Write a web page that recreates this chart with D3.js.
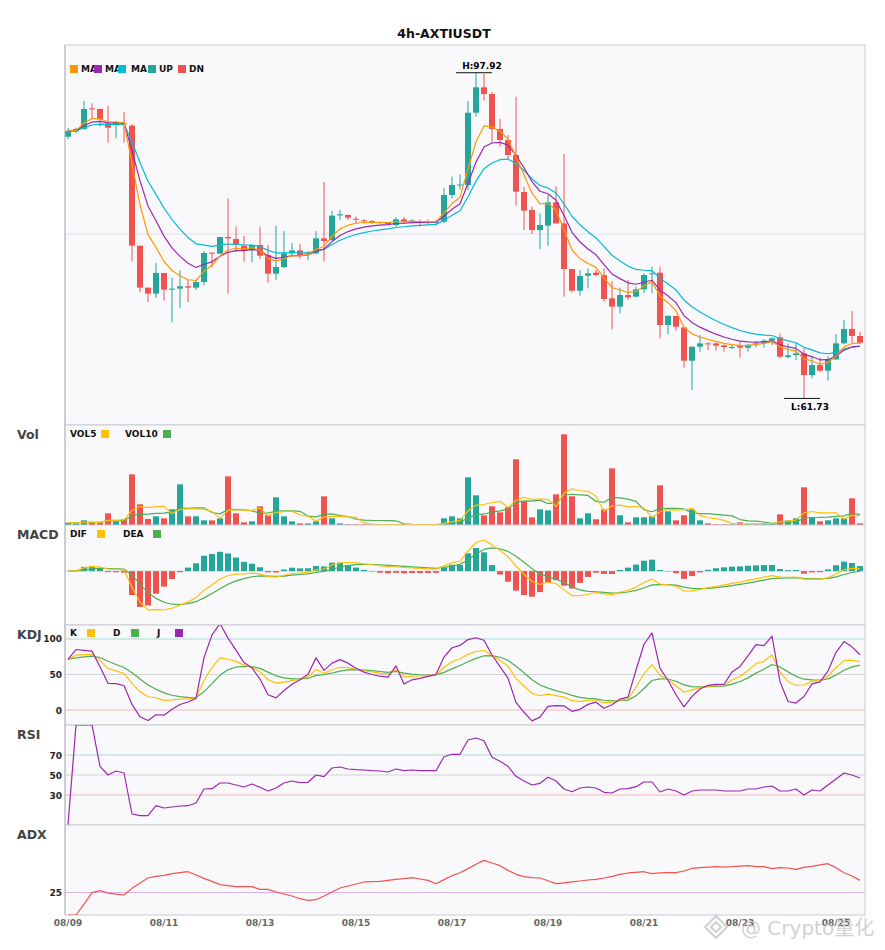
<!DOCTYPE html>
<html>
<head>
<meta charset="utf-8">
<script src="https://cdn.jsdelivr.net/npm/d3@7"></script>
<style>
  body { margin: 0; background: #fff; }
  svg { display: block; font-family: "DejaVu Sans", sans-serif; }
</style>
</head>
<body>
<div id="chart"></div>
<script>
// ---- data (4h candles, 08/09 .. 08/25) ----
const tickLabels = ['08/09', '08/11', '08/13', '08/15', '08/17', '08/19', '08/21', '08/23', '08/25'];
const candlesPerLabel = 12;

const openP = [90.81, 91.41, 91.67, 93.96, 93.89, 92.30, 92.11, 92.30, 92.04, 78.70,
    74.04, 73.37, 75.67, 73.85, 73.93, 74.19, 74.04, 74.67, 77.93, 77.81,
    79.67, 79.44, 78.70, 78.19, 78.78, 77.67, 75.59, 76.33, 77.85, 78.18,
    77.85, 77.85, 79.52, 79.30, 82.07, 82.11, 81.70, 81.52, 81.44, 81.33,
    81.15, 81.00, 81.63, 81.44, 81.40, 81.40, 81.30, 81.37, 84.33, 85.44,
    85.44, 93.48, 96.30, 95.56, 91.67, 90.44, 88.78, 84.67, 82.67, 80.44,
    80.93, 83.52, 81.18, 76.11, 73.70, 75.37, 75.70, 75.44, 72.85, 71.93,
    73.22, 73.04, 73.85, 75.60, 75.70, 69.89, 70.89, 69.63, 65.92, 67.48,
    67.85, 67.85, 67.63, 67.37, 67.55, 67.37, 67.80, 67.85, 68.15, 68.52,
    66.33, 66.55, 66.74, 64.33, 65.44, 64.81, 66.07, 67.85, 69.44, 68.67];
const highP = [91.81, 91.81, 94.78, 94.52, 93.96, 94.26, 92.41, 93.52, 92.22, 78.70,
    74.04, 76.78, 75.67, 75.15, 75.96, 74.89, 74.89, 78.11, 77.96, 79.67,
    83.96, 80.81, 79.81, 78.78, 80.81, 78.78, 80.93, 80.33, 79.00, 78.89,
    78.10, 80.33, 85.78, 82.56, 82.67, 82.19, 81.93, 81.63, 81.56, 81.33,
    81.30, 81.89, 81.89, 81.63, 81.63, 81.63, 81.56, 85.15, 86.37, 86.63,
    94.78, 97.92, 97.80, 95.78, 92.78, 91.00, 95.26, 85.26, 83.03, 82.30,
    84.33, 85.26, 88.89, 76.11, 76.00, 76.18, 76.00, 76.18, 74.78, 74.04,
    74.89, 74.15, 75.63, 76.37, 76.37, 70.92, 70.90, 69.63, 67.48, 68.78,
    67.96, 67.93, 67.74, 67.74, 68.04, 67.74, 68.15, 68.30, 68.52, 68.96,
    67.85, 67.93, 67.30, 66.44, 66.30, 66.44, 68.89, 70.44, 71.44, 69.15];
const lowP = [90.52, 91.19, 91.60, 92.85, 91.93, 90.15, 90.63, 90.15, 76.93, 73.52,
    72.44, 72.89, 72.59, 70.19, 71.78, 72.44, 73.78, 74.30, 76.37, 77.81,
    73.37, 78.00, 76.93, 76.85, 77.22, 74.59, 74.89, 76.22, 77.48, 77.26,
    77.10, 77.74, 76.93, 79.30, 81.56, 81.56, 81.19, 81.15, 81.11, 81.11,
    81.00, 80.81, 81.11, 81.19, 80.81, 81.00, 80.93, 81.19, 83.96, 84.96,
    84.90, 93.04, 94.81, 90.18, 89.70, 88.33, 83.15, 80.44, 80.00, 78.33,
    78.70, 81.18, 73.04, 73.50, 73.15, 73.96, 75.26, 72.48, 69.40, 71.18,
    72.67, 72.96, 73.41, 73.41, 68.40, 68.85, 69.26, 65.15, 62.67, 66.93,
    67.11, 67.04, 66.93, 67.22, 66.26, 66.93, 67.41, 67.37, 67.67, 66.19,
    66.19, 66.00, 61.73, 63.96, 64.63, 63.70, 66.00, 67.74, 67.93, 67.78];
const closeP = [91.44, 91.67, 93.89, 93.89, 92.74, 91.81, 92.41, 92.19, 78.70, 74.04,
    73.37, 75.67, 73.81, 73.93, 74.19, 74.04, 74.67, 77.89, 77.85, 79.67,
    79.52, 78.81, 78.19, 78.78, 77.59, 75.59, 76.33, 77.85, 78.18, 77.59,
    77.96, 79.52, 79.22, 82.04, 82.19, 81.81, 81.63, 81.44, 81.37, 81.26,
    81.22, 81.63, 81.30, 81.50, 81.35, 81.35, 81.37, 84.33, 85.44, 85.50,
    93.48, 96.30, 95.56, 91.67, 90.44, 88.78, 84.70, 82.59, 80.44, 81.00,
    83.52, 81.18, 76.11, 73.70, 75.33, 75.63, 75.44, 72.78, 71.93, 73.22,
    72.96, 73.85, 75.44, 75.63, 69.89, 70.92, 69.70, 65.92, 67.48, 67.85,
    67.78, 67.59, 67.44, 67.44, 67.37, 67.70, 67.85, 68.15, 68.41, 66.37,
    66.52, 66.74, 64.33, 65.44, 64.81, 66.07, 67.85, 69.44, 68.67, 67.93];
const volume = [7, 5, 14, 7, 7, 35, 11, 17, 152, 62,
    18, 26, 20, 47, 122, 26, 26, 14, 14, 20,
    146, 35, 8, 11, 56, 29, 83, 26, 11, 5,
    5, 11, 86, 20, 5, 2, 2, 2, 1, 1,
    1, 1, 1, 1, 1, 1, 1, 20, 26, 20,
    143, 89, 29, 56, 38, 53, 197, 71, 23, 47,
    44, 92, 272, 86, 20, 35, 17, 47, 170, 29,
    8, 23, 23, 26, 119, 41, 14, 29, 47, 14,
    5, 2, 2, 2, 8, 3, 3, 4, 5, 32,
    14, 20, 113, 23, 11, 14, 20, 20, 80, 5];
const rsiVals = [0, 100, 100, 100, 58.7, 50, 54, 52, 11, 9.3,
    9.3, 19.3, 17, 18, 19, 19.3, 22, 36, 36.3, 42,
    42, 40, 38, 41, 37.7, 34, 37, 42, 44, 42.3,
    42.7, 50, 48.3, 57, 58, 56, 55.3, 55, 54.3, 54,
    53, 56, 54.3, 55, 54.3, 54.3, 54.3, 68.3, 70.7, 70.7,
    85, 87, 84.3, 67.7, 63.7, 58.7, 48.7, 44, 40, 41.7,
    47.7, 44, 36, 33.3, 37, 38, 37, 32.7, 32, 36,
    36.3, 38.3, 43, 43, 33, 36, 34, 30, 34, 35,
    35, 35, 34, 34, 34, 36, 36, 38, 39, 34,
    34, 36, 30, 35, 34, 40, 46, 52, 50, 47];
const adxVals = [0, 0, 12, 24.8, 27, 24.4, 23.3, 22.2, 29.6, 35.6,
    41.1, 43, 44.1, 45.9, 47, 48.1, 44.4, 40.7, 37.4, 33.7,
    32.6, 31.5, 31.5, 31.5, 28.5, 28.5, 25.6, 23.3, 21.1, 18.1,
    16.3, 17, 21.1, 25.6, 30, 32.2, 34.4, 36.7, 37, 37.4,
    38.5, 39.6, 40.4, 41.5, 40, 38.5, 34.8, 39.3, 43.7, 47,
    51.5, 56.3, 60.7, 57.8, 54.8, 49.6, 45.2, 42.6, 41.5, 41.1,
    38.1, 34.8, 35.6, 36.7, 37.8, 38.9, 39.6, 41.1, 43, 45.2,
    46.7, 47.4, 48.1, 45.9, 46.7, 47, 47, 48.9, 51.9, 52.6,
    53.3, 53.7, 53.3, 53.7, 54.4, 54.8, 53.7, 53.7, 51.5, 52.6,
    52.2, 50.7, 53, 54.1, 55.6, 57, 52.6, 47, 43.3, 38.5];

// ---- indicator series derived from the candles ----
const n = closeP.length;
const ema = (vals, span) => {
    const a = 2 / (span + 1);
    const out = [];
    vals.forEach((v, i) => out.push(i === 0 ? v : out[i - 1] + a * (v - out[i - 1])));
    return out;
};
const sma = (vals, len) => vals.map((v, i) => d3.mean(vals.slice(Math.max(0, i - len + 1), i + 1)));

const ma5 = ema(closeP, 5), ma8 = ema(closeP, 8), ma13 = ema(closeP, 13);
const vol5 = sma(volume, 5), vol10 = sma(volume, 10);
// fast MACD (5, 13, 5)
const dif = ma5.map((v, i) => v - ma13[i]);
const dea = ema(dif, 5);
const macdHist = dif.map((v, i) => 2 * (v - dea[i]));

const kdjK = [], kdjD = [], kdjJ = [];
for (let i = 0; i < n; i++) {
    const s = Math.max(0, i - 8);
    const lo = d3.min(lowP.slice(s, i + 1)), hi = d3.max(highP.slice(s, i + 1));
    const rsv = hi === lo ? 50 : (closeP[i] - lo) / (hi - lo) * 100;
    const k = i === 0 ? rsv : (2 * kdjK[i - 1] + rsv) / 3;
    const dv = i === 0 ? rsv : (2 * kdjD[i - 1] + k) / 3;
    kdjK.push(k); kdjD.push(dv); kdjJ.push(3 * k - 2 * dv);
}

// ---- layout ----
const W = 885, H = 950;
const left = 65, right = 865;
const UP = '#26a69a', DN = '#ef5350';
const panels = [
    { id: 'main', top: 45, bottom: 425 },
    { id: 'vol', top: 425, bottom: 525, label: 'Vol' },
    { id: 'macd', top: 525, bottom: 625, label: 'MACD' },
    { id: 'kdj', top: 625, bottom: 725, label: 'KDJ' },
    { id: 'rsi', top: 725, bottom: 825, label: 'RSI' },
    { id: 'adx', top: 825, bottom: 915, label: 'ADX' }
];
const P = Object.fromEntries(panels.map(p => [p.id, p]));

const svg = d3.select('#chart').append('svg').attr('width', W).attr('height', H);
const defs = svg.append('defs');

const x = d3.scaleBand().domain(d3.range(n)).range([left - 1, right - 1]).paddingInner(0.25).paddingOuter(0.125);
const cx = i => x(i) + x.bandwidth() / 2;

const yMain = d3.scaleLinear().domain([58.78, 101]).range([P.main.bottom, P.main.top]);
const yVol = d3.scaleLinear().domain([0, 300]).range([P.vol.bottom, P.vol.top]);
const macdExt = d3.extent([...dif, ...dea, ...macdHist]);
const yMacd = d3.scaleLinear().domain(macdExt).range([P.macd.bottom - 15, P.macd.top + 15]);
const yKdj = d3.scaleLinear().domain([-21.1, 119.7]).range([P.kdj.bottom, P.kdj.top]);
const yRsi = d3.scaleLinear().domain([0, 100]).range([P.rsi.bottom, P.rsi.top]);
const yAdx = d3.scaleLinear().domain([0, 100]).range([P.adx.bottom, P.adx.top]);

svg.append('text')
    .attr('x', 444).attr('y', 38)
    .attr('text-anchor', 'middle')
    .style('font-size', '12.5px').style('font-weight', 'bold').style('fill', '#111')
    .text('4h-AXTIUSDT');

// panel backgrounds and clip areas
const layers = {};
panels.forEach(p => {
    svg.append('rect')
        .attr('x', left).attr('y', p.top)
        .attr('width', right - left).attr('height', p.bottom - p.top)
        .attr('fill', '#f9f9fc').attr('stroke', '#c9c9d2').attr('stroke-width', 1);
    defs.append('clipPath').attr('id', `clip-${p.id}`)
        .append('rect').attr('x', left).attr('y', p.top)
        .attr('width', right - left).attr('height', p.bottom - p.top);
    layers[p.id] = svg.append('g').attr('clip-path', `url(#clip-${p.id})`);
    if (p.label) {
        svg.append('text')
            .attr('x', 17).attr('y', p.top + 14)
            .style('font-size', '12.5px').style('font-weight', 'bold').style('fill', '#444')
            .text(p.label);
    }
});

svg.append('line')
    .attr('x1', left).attr('x2', left).attr('y1', P.main.top).attr('y2', P.adx.bottom)
    .attr('stroke', '#b8b8c2');

const guide = (layer, y, v, color) => layers[layer].append('line')
    .attr('x1', left).attr('x2', right).attr('y1', y(v)).attr('y2', y(v))
    .attr('stroke', color).attr('stroke-width', 1);

const tickText = (y, v, label) => svg.append('text')
    .attr('x', 62).attr('y', y(v) + 3.5)
    .attr('text-anchor', 'end')
    .style('font-size', '9px').style('font-weight', 'bold').style('fill', '#222')
    .text(label);

const drawLine = (layer, vals, y, color, w = 1.2) => layers[layer].append('path')
    .datum(vals)
    .attr('fill', 'none').attr('stroke', color).attr('stroke-width', w)
    .attr('stroke-linejoin', 'round')
    .attr('d', d3.line().x((d, i) => cx(i)).y(d => y(d)));

const legend = (items, y) => items.forEach(it => {
    if (it.text) {
        svg.append('text').attr('x', it.tx).attr('y', y + 7)
            .style('font-size', '9px').style('font-weight', 'bold').style('fill', '#111')
            .text(it.text);
    }
    if (it.color) {
        svg.append('rect').attr('x', it.sx).attr('y', y).attr('width', 8).attr('height', 8).attr('fill', it.color);
    }
});

// ---- main: candles + moving averages ----
guide('main', yMain, 80, '#dedee4');
const isUp = i => closeP[i] >= openP[i];
const candles = layers.main.selectAll('g.candle').data(d3.range(n)).join('g').attr('class', 'candle');
candles.append('line')
    .attr('x1', i => cx(i)).attr('x2', i => cx(i))
    .attr('y1', i => yMain(highP[i])).attr('y2', i => yMain(lowP[i]))
    .attr('stroke', i => isUp(i) ? UP : DN).attr('stroke-width', 1);
candles.append('rect')
    .attr('x', i => x(i)).attr('width', x.bandwidth())
    .attr('y', i => yMain(Math.max(openP[i], closeP[i])))
    .attr('height', i => Math.max(1, Math.abs(yMain(openP[i]) - yMain(closeP[i]))))
    .attr('fill', i => isUp(i) ? UP : DN);

drawLine('main', ma13, yMain, '#00bcd4');
drawLine('main', ma8, yMain, '#9c27b0');
drawLine('main', ma5, yMain, '#ff9800');

const hiIdx = d3.maxIndex(highP), loIdx = d3.minIndex(lowP);
svg.append('line').attr('x1', cx(hiIdx) - 20).attr('x2', cx(hiIdx) + 16)
    .attr('y1', yMain(highP[hiIdx])).attr('y2', yMain(highP[hiIdx])).attr('stroke', '#111');
svg.append('text').attr('x', cx(hiIdx) + 6).attr('y', yMain(highP[hiIdx]) - 4)
    .attr('text-anchor', 'middle').style('font-size', '9px').style('font-weight', 'bold')
    .text(`H:${highP[hiIdx].toFixed(2)}`);
svg.append('line').attr('x1', cx(loIdx) - 20).attr('x2', cx(loIdx) + 16)
    .attr('y1', yMain(lowP[loIdx])).attr('y2', yMain(lowP[loIdx])).attr('stroke', '#111');
svg.append('text').attr('x', cx(loIdx) + 6).attr('y', yMain(lowP[loIdx]) + 12)
    .attr('text-anchor', 'middle').style('font-size', '9px').style('font-weight', 'bold')
    .text(`L:${lowP[loIdx].toFixed(2)}`);

legend([
    { color: '#ff9800', sx: 70, text: 'MA', tx: 81 },
    { color: '#9c27b0', sx: 94, text: 'MA', tx: 105 },
    { color: '#00bcd4', sx: 118, text: 'MA', tx: 131 },
    { color: UP, sx: 148, text: 'UP', tx: 159 },
    { color: DN, sx: 178, text: 'DN', tx: 189 }
], 65);

// ---- volume ----
layers.vol.selectAll('rect.vbar').data(d3.range(n)).join('rect').attr('class', 'vbar')
    .attr('x', i => x(i)).attr('width', x.bandwidth())
    .attr('y', i => yVol(volume[i])).attr('height', i => yVol(0) - yVol(volume[i]))
    .attr('fill', i => isUp(i) ? UP : DN);
drawLine('vol', vol10, yVol, '#4caf50');
drawLine('vol', vol5, yVol, '#ffc107');
legend([
    { text: 'VOL5', tx: 70, color: '#ffc107', sx: 101 },
    { text: 'VOL10', tx: 125, color: '#4caf50', sx: 163 }
], 430);

// ---- MACD ----
guide('macd', yMacd, 0, '#d6d6dc');
layers.macd.selectAll('rect.mbar').data(d3.range(n)).join('rect').attr('class', 'mbar')
    .attr('x', i => x(i)).attr('width', x.bandwidth())
    .attr('y', i => Math.min(yMacd(0), yMacd(macdHist[i])))
    .attr('height', i => Math.abs(yMacd(macdHist[i]) - yMacd(0)))
    .attr('fill', i => macdHist[i] >= 0 ? UP : DN);
drawLine('macd', dea, yMacd, '#4caf50');
drawLine('macd', dif, yMacd, '#ffc107');
legend([
    { text: 'DIF', tx: 70, color: '#ffc107', sx: 97 },
    { text: 'DEA', tx: 123, color: '#4caf50', sx: 153 }
], 530);

// ---- KDJ ----
guide('kdj', yKdj, 100, '#a9dcd8');
guide('kdj', yKdj, 50, '#d3d3d8');
guide('kdj', yKdj, 0, '#f5b7b7');
[100, 50, 0].forEach(v => tickText(yKdj, v, v));
drawLine('kdj', kdjD, yKdj, '#4caf50');
drawLine('kdj', kdjK, yKdj, '#ffc107');
drawLine('kdj', kdjJ, yKdj, '#9c27b0');
legend([
    { text: 'K', tx: 70, color: '#ffc107', sx: 87 },
    { text: 'D', tx: 113, color: '#4caf50', sx: 131 },
    { text: 'J', tx: 157, color: '#9c27b0', sx: 175 }
], 629);

// ---- RSI ----
guide('rsi', yRsi, 70, '#a9dcd8');
guide('rsi', yRsi, 50, '#d3d3d8');
guide('rsi', yRsi, 30, '#f5b7b7');
[70, 50, 30].forEach(v => tickText(yRsi, v, v));
drawLine('rsi', rsiVals, yRsi, '#9c27b0');

// ---- ADX ----
guide('adx', yAdx, 25, '#dcb4e4');
tickText(yAdx, 25, 25);
drawLine('adx', adxVals, yAdx, '#ef5350');

// ---- x axis labels ----
svg.selectAll('text.xlab').data(tickLabels).join('text').attr('class', 'xlab')
    .attr('x', (d, k) => cx(k * candlesPerLabel)).attr('y', 926)
    .attr('text-anchor', 'middle')
    .style('font-size', '9px').style('font-weight', 'bold').style('fill', '#666')
    .text(d => d);

// ---- watermark ----
const wm = svg.append('g').attr('opacity', 0.75);
const logo = wm.append('g').attr('transform', 'translate(716,927)')
    .attr('fill', 'none').attr('stroke', '#c4c4c4').attr('stroke-width', 2.2);
logo.append('path').attr('d', 'M0,-11 L11,0 L0,11 L-11,0 Z');
logo.append('path').attr('d', 'M0,-5 L5,0 L0,5 L-5,0 Z');
wm.append('text').attr('x', 741).attr('y', 935)
    .style('font-size', '20px').style('fill', '#c4c4c4')
    .style('font-family', '"DejaVu Sans", "Noto Sans CJK SC", sans-serif')
    .text('@ Crypto量化');
</script>
</body>
</html>
